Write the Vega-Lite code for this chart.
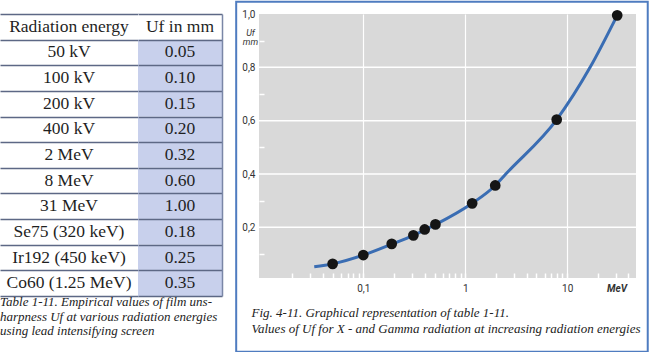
{
  "$schema": "https://vega.github.io/schema/vega-lite/v6.json",
  "padding": 0,
  "background": "white",
  "spacing": 13,
  "config": {"view": {"stroke": null}},
  "datasets": {
    "table": [
      {"energy": "Radiation energy", "uf": "Uf in mm"},
      {"energy": "50 kV", "uf": "0.05"},
      {"energy": "100 kV", "uf": "0.10"},
      {"energy": "200 kV", "uf": "0.15"},
      {"energy": "400 kV", "uf": "0.20"},
      {"energy": "2 MeV", "uf": "0.32"},
      {"energy": "8 MeV", "uf": "0.60"},
      {"energy": "31 MeV", "uf": "1.00"},
      {"energy": "Se75 (320 keV)", "uf": "0.18"},
      {"energy": "Ir192 (450 keV)", "uf": "0.25"},
      {"energy": "Co60 (1.25 MeV)", "uf": "0.35"}
    ],
    "hgrid": [{"U": 0.2}, {"U": 0.4}, {"U": 0.6}, {"U": 0.8}],
    "points": [
      {"E": 0.05, "U": 0.063},
      {"E": 0.1, "U": 0.096},
      {"E": 0.19, "U": 0.138},
      {"E": 0.31, "U": 0.17},
      {"E": 0.4, "U": 0.192},
      {"E": 0.51, "U": 0.211},
      {"E": 1.17, "U": 0.29},
      {"E": 1.97, "U": 0.357},
      {"E": 7.9, "U": 0.604},
      {"E": 31, "U": 0.995}
    ],
    "curve": [
      {"E": 0.033, "U": 0.052},
      {"E": 0.05, "U": 0.063},
      {"E": 0.1, "U": 0.096},
      {"E": 0.19, "U": 0.137},
      {"E": 0.31, "U": 0.17},
      {"E": 0.4, "U": 0.19},
      {"E": 0.51, "U": 0.21},
      {"E": 1.17, "U": 0.29},
      {"E": 1.97, "U": 0.357},
      {"E": 2.5, "U": 0.4},
      {"E": 7.9, "U": 0.604},
      {"E": 16.8, "U": 0.8},
      {"E": 31, "U": 0.995}
    ]
  },
  "hconcat": [
    {
      "title": {
        "text": ["Table 1-11. Empirical values of film uns-", "harpness Uf  at various radiation energies", "using lead intensifying screen"],
        "orient": "bottom", "anchor": "start", "font": "Liberation Serif", "fontSize": 13,
        "fontStyle": "italic", "fontWeight": "normal", "color": "#222", "lineHeight": 14.5, "offset": 0
      },
      "spacing": 0,
      "hconcat": [
        {
          "width": 138, "height": 282,
          "data": {"name": "table"},
          "mark": {"type": "text", "font": "Liberation Serif", "fontSize": 17.5, "color": "#1f1f1f"},
          "encoding": {
            "y": {"field": "energy", "type": "nominal", "sort": null,
              "scale": {"type": "band", "paddingInner": 0, "paddingOuter": 0},
              "axis": {"title": null, "labels": false, "ticks": false, "domain": false, "grid": true,
                "tickBand": "extent", "gridColor": "#5d6885", "gridWidth": 1.5, "zindex": 1}},
            "text": {"field": "energy"}
          }
        },
        {
          "width": 84, "height": 282,
          "data": {"name": "table"},
          "encoding": {
            "y": {"field": "energy", "type": "nominal", "sort": null,
              "scale": {"type": "band", "paddingInner": 0, "paddingOuter": 0},
              "axis": {"title": null, "orient": "right", "labels": false, "ticks": false, "domain": true,
                "domainColor": "#7a86a6", "domainWidth": 1.5, "grid": true,
                "tickBand": "extent", "gridColor": "#5d6885", "gridWidth": 1.5, "zindex": 1}}
          },
          "layer": [
            {
              "mark": {"type": "rect"},
              "encoding": {
                "color": {"condition": {"test": "datum.energy == 'Radiation energy'", "value": "white"}, "value": "#c8d0ec"}
              }
            },
            {
              "mark": {"type": "text", "font": "Liberation Serif", "fontSize": 17.5, "color": "#1f1f1f"},
              "encoding": {"text": {"field": "uf"}}
            }
          ]
        }
      ]
    },
    {
      "width": 377, "height": 264,
      "view": {"fill": "#d9d9d9", "stroke": null},
      "resolve": {"axis": {"y": "independent"}},
      "layer": [
        {
          "data": {"values": [{}]},
          "mark": {"type": "rect", "fillOpacity": 0, "stroke": "#4f7cc0", "strokeWidth": 2},
          "encoding": {
            "x": {"datum": 0.005656, "type": "quantitative"},
            "x2": {"datum": 61.8},
            "y": {"datum": 1.046, "type": "quantitative", "axis": null},
            "y2": {"datum": -0.2664}
          }
        },
        {
          "data": {"name": "hgrid"},
          "mark": {"type": "rule", "color": "#ffffff", "strokeWidth": 1.5, "opacity": 1},
          "encoding": {
            "x": {"datum": 0.00947, "type": "quantitative"},
            "x2": {"datum": 47.4},
            "y": {"field": "U", "type": "quantitative", "axis": null}
          }
        },
        {
          "data": {"name": "curve"},
          "mark": {"type": "line", "interpolate": "monotone", "color": "#3a6db3", "strokeWidth": 3},
          "encoding": {
            "x": {"field": "E", "type": "quantitative",
              "scale": {"type": "log", "domain": [0.00947, 47.4], "nice": false},
              "axis": {
                "values": [0.02, 0.03, 0.04, 0.05, 0.06, 0.07, 0.08, 0.09, 0.1, 0.2, 0.3, 0.4, 0.5, 0.6, 0.7, 0.8, 0.9, 1, 2, 3, 4, 5, 6, 7, 8, 9, 10, 20, 30, 40, 30.6],
                "labelExpr": "datum.value == 0.1 ? '0,1' : datum.value == 1 ? '1' : datum.value == 10 ? '10' : datum.value == 30.6 ? 'MeV' : ''",
                "labelFont": "Roboto", "labelFontSize": 10, "labelColor": "#333",
                "labelFontStyle": {"condition": {"test": "datum.value == 30.6", "value": "italic"}, "value": "normal"},
                "labelFontWeight": {"condition": {"test": "datum.value == 30.6", "value": "bold"}, "value": "normal"},
                "labelOverlap": false, "labelFlush": false, "labelPadding": 10,
                "grid": true, "gridColor": "white", "gridWidth": 1.2,
                "gridOpacity": {"condition": {"test": "datum.value == 0.1 || datum.value == 1 || datum.value == 10", "value": 1}, "value": 0},
                "domain": false, "tickColor": "white", "tickSize": -5, "tickWidth": 1.5,
                "tickOpacity": {"condition": {"test": "datum.value == 30.6", "value": 0}, "value": 1},
                "title": ["Fig. 4-11.  Graphical representation of table 1-11.", "Values of Uf  for X - and Gamma radiation at increasing radiation energies"],
                "titleFont": "Liberation Serif", "titleFontSize": 13, "titleFontStyle": "italic", "titleFontWeight": "normal",
                "titleColor": "#222", "titleAnchor": "start", "titleAlign": "left", "titleBaseline": "top",
                "titleX": -8, "titleY": 28, "titleLineHeight": 16
              }},
            "y": {"field": "U", "type": "quantitative",
              "scale": {"domain": [0.01, 1.0], "nice": false, "zero": false},
              "axis": {
                "orient": "left",
                "values": [0.2, 0.4, 0.6, 0.8, 1],
                "labelExpr": "replace(format(datum.value, '.1f'), '.', ',')",
                "labelFont": "Roboto", "labelFontSize": 10, "labelColor": "#333", "labelPadding": 4,
                "labelOverlap": false, "labelFlush": false,
                "grid": false, "ticks": false, "domain": false,
                "title": ["Uf", "mm"], "titleAngle": 0, "titleX": -9, "titleY": 14, "titleAlign": "center",
                "titleBaseline": "top", "titleFont": "Roboto", "titleFontSize": 9, "titleFontStyle": "italic",
                "titleFontWeight": "normal", "titleColor": "#333", "titleLineHeight": 9
              }}
          }
        },
        {
          "data": {"name": "points"},
          "mark": {"type": "point", "filled": true, "color": "#151515", "size": 115, "opacity": 1},
          "encoding": {
            "x": {"field": "E", "type": "quantitative"},
            "y": {"field": "U", "type": "quantitative",
              "axis": {
                "orient": "left",
                "values": [0.1, 0.3, 0.5, 0.7, 0.9],
                "labels": false, "grid": false, "domain": false, "title": null,
                "tickColor": "white", "tickSize": -5, "tickWidth": 1.5
              }}
          }
        }
      ]
    }
  ]
}
